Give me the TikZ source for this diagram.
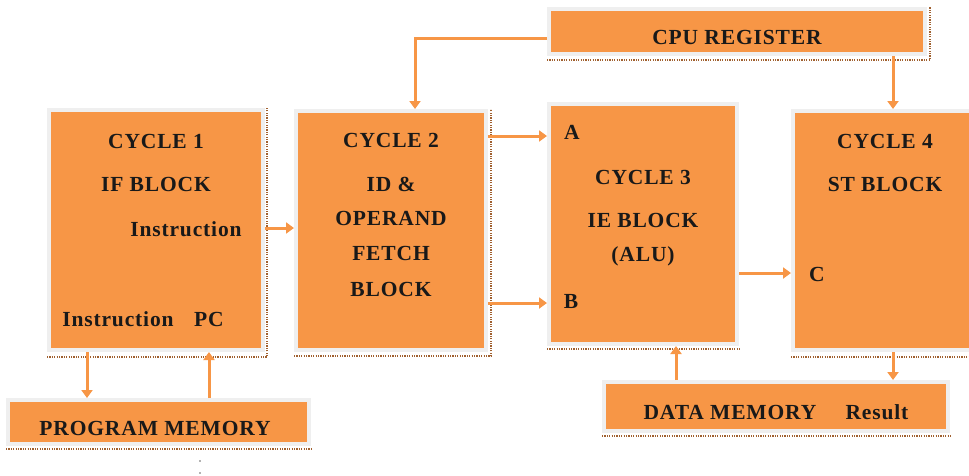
\documentclass[tikz,border=0pt]{standalone}
\usepackage{fontspec}
\setmainfont{Liberation Serif}
\newfontfamily\lblfont[LetterSpace=4]{Liberation Serif}
\usetikzlibrary{arrows.meta}
\definecolor{boxorange}{HTML}{F79646}
\definecolor{boxrim}{HTML}{EFEFEF}
\definecolor{shadowbrown}{HTML}{A0602F}
\tikzset{
  block/.style={fill=boxorange, draw=boxrim, line width=4pt, inner sep=0pt, outer sep=2pt},
  lbl/.style={font=\lblfont\fontsize{21.5}{25}\selectfont\bfseries, text=black!90, inner sep=0pt},
  arr/.style={draw=boxorange, line width=3pt, -{Triangle[length=8pt,width=11pt]}},
  shadowline/.style={draw=shadowbrown, line width=1.8pt, dash pattern=on 1.2pt off 1.2pt},
}
\begin{document}
\begin{tikzpicture}[x=1pt,y=-1pt]
\useasboundingbox (0,0) rectangle (969,475);
% blocks
\node[block, minimum width=214pt, minimum height=240pt] (c1) at (156,230) {};
\node[block, minimum width=190pt, minimum height=239pt] (c2) at (391,230.5) {};
\node[block, minimum width=188pt, minimum height=240pt] (c3) at (643,224) {};
\node[block, minimum width=199pt, minimum height=239pt] (c4) at (892.5,230.5) {};
\node[block, minimum width=376pt, minimum height=45pt] (cpu) at (737,31.5) {};
\node[block, minimum width=301pt, minimum height=44pt] (pm) at (158.5,422) {};
\node[block, minimum width=344pt, minimum height=49pt] (dm) at (776,406.5) {};
% dotted shadows
\draw[shadowline] ([yshift=-5pt]c1.south west) -- ([xshift=2pt,yshift=-5pt]c1.south east) -- ([xshift=2pt]c1.north east);
\draw[shadowline] ([yshift=-4pt]c2.south west) -- ([xshift=3pt,yshift=-4pt]c2.south east) -- ([xshift=3pt]c2.north east);
\draw[shadowline] ([yshift=-3pt]c3.south west) -- ([xshift=2pt,yshift=-3pt]c3.south east);
\draw[shadowline] ([yshift=-5pt]c4.south west) -- ([yshift=-5pt]c4.south east);
\draw[shadowline] ([yshift=-4pt]cpu.south west) -- ([xshift=3pt,yshift=-4pt]cpu.south east) -- ([xshift=3pt]cpu.north east);
\draw[shadowline] ([yshift=-3pt]pm.south west) -- ([xshift=2pt,yshift=-3pt]pm.south east);
\draw[shadowline] ([yshift=-3pt]dm.south west) -- ([xshift=2pt,yshift=-3pt]dm.south east);
% labels
\node[lbl] (t1a) at (156,141) {CYCLE 1};
\node[lbl] (t1b) at (156,184) {IF BLOCK};
\node[lbl] (t1c) at (186,229) {Instruction};
\node[lbl] (t1d) at (118,319) {Instruction};
\node[lbl] (t1e) at (209,319) {PC};
\node[lbl] (t2a) at (391,140) {CYCLE 2};
\node[lbl] (t2b) at (391,184) {ID \&};
\node[lbl] (t2c) at (391,218) {OPERAND};
\node[lbl] (t2d) at (391,253) {FETCH};
\node[lbl] (t2e) at (391,289) {BLOCK};
\node[lbl] (t3a) at (572,132) {A};
\node[lbl] (t3b) at (643,177) {CYCLE 3};
\node[lbl] (t3c) at (643,220) {IE BLOCK};
\node[lbl] (t3d) at (643,256) {(ALU)};
\node[lbl] (t3e) at (571,301) {B};
\node[lbl] (t4a) at (885,141) {CYCLE 4};
\node[lbl] (t4b) at (885,184) {ST BLOCK};
\node[lbl] (t4c) at (817,274) {C};
\node[lbl] (tcpu) at (737,37) {CPU REGISTER};
\node[lbl] (tpm) at (155,428) {PROGRAM MEMORY};
\node[lbl] (tdm) at (730,412) {DATA MEMORY};
\node[lbl] (tres) at (877,412) {Result};
% connectors
\draw[arr] (c1.east |- 0,228) -- (c2.west |- 0,228);
\draw[arr] (c2.east |- 0,136) -- (c3.west |- 0,136);
\draw[arr] (c2.east |- 0,303) -- (c3.west |- 0,303);
\draw[arr] (c3.east |- 0,273) -- (c4.west |- 0,273);
\draw[arr] (cpu.west |- 0,38) -| (c2.north -| 415,0);
\draw[arr] (cpu.south -| 893,0) -- (c4.north -| 893,0);
\draw[arr] (c1.south -| 87,0) -- (pm.north -| 87,0);
\draw[arr] (pm.north -| 209,0) -- (c1.south -| 209,0);
\draw[arr] (dm.north -| 676,0) -- (c3.south -| 676,0);
\draw[arr] (c4.south -| 893,0) -- (dm.north -| 893,0);
% stray dots
\fill[black!60] (200,461) circle (0.8pt);
\fill[black!60] (200,473) circle (0.8pt);
\end{tikzpicture}
\end{document}
